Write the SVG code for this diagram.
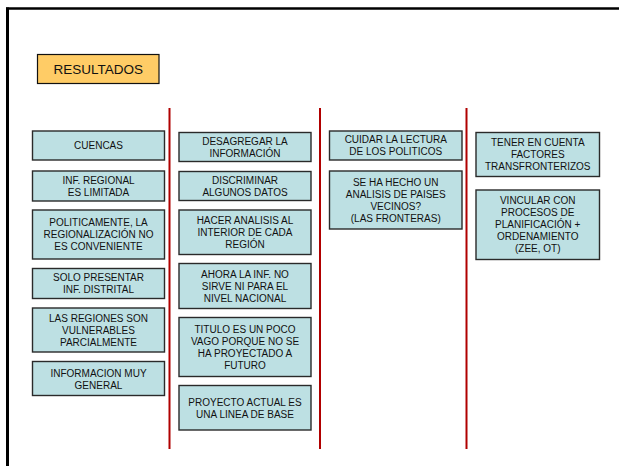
<svg xmlns="http://www.w3.org/2000/svg" width="619" height="466" viewBox="0 0 619 466">
<style>
.box{fill:#BDE0E3;stroke:#2a2a2a;stroke-width:1.4}
.t{font-family:"Liberation Sans",Arial,sans-serif;font-size:10px;fill:#111;text-anchor:middle}
.div{stroke:#B00000;stroke-width:2}
</style>
<rect x="0" y="0" width="619" height="466" fill="#fff"/>
<g id="frame">
<line x1="6" y1="8.5" x2="619" y2="8.5" stroke="#000" stroke-width="2.5"/>
<line x1="7.5" y1="7.5" x2="7.5" y2="466" stroke="#000" stroke-width="3"/>
</g>
<g id="title">
<rect x="37.5" y="54.5" width="121.5" height="29" fill="#FFCC66" stroke="#111" stroke-width="1.2"/>
<text x="98.25" y="73.8" style="font-family:'Liberation Sans',Arial,sans-serif;font-size:13.5px;fill:#111;text-anchor:middle">RESULTADOS</text>
</g>
<g id="dividers">
<line class="div" x1="169.5" y1="108" x2="169.5" y2="449"/>
<line class="div" x1="320" y1="108" x2="320" y2="449"/>
<line class="div" x1="466.5" y1="108" x2="466.5" y2="449"/>
</g>
<g id="n-cuencas"><rect class="box" x="32.5" y="131" width="132" height="29"/><text class="t" x="98.5" y="149.1">CUENCAS</text></g>
<g id="n-infregional"><rect class="box" x="32.5" y="171" width="132" height="30"/><text class="t" x="98.5" y="183.6"><tspan x="98.5">INF. REGIONAL</tspan><tspan x="98.5" dy="12">ES LIMITADA</tspan></text></g>
<g id="n-politicamente"><rect class="box" x="32.5" y="210" width="132" height="49"/><text class="t" x="98.5" y="226.1"><tspan x="98.5">POLITICAMENTE, LA</tspan><tspan x="98.5" dy="12">REGIONALIZACIÓN NO</tspan><tspan x="98.5" dy="12">ES CONVENIENTE</tspan></text></g>
<g id="n-solo"><rect class="box" x="32.5" y="268.5" width="132" height="30"/><text class="t" x="98.5" y="281.1"><tspan x="98.5">SOLO PRESENTAR</tspan><tspan x="98.5" dy="12">INF. DISTRITAL</tspan></text></g>
<g id="n-regiones"><rect class="box" x="32.5" y="308" width="132" height="44"/><text class="t" x="98.5" y="321.6"><tspan x="98.5">LAS REGIONES SON</tspan><tspan x="98.5" dy="12">VULNERABLES</tspan><tspan x="98.5" dy="12">PARCIALMENTE</tspan></text></g>
<g id="n-informacion"><rect class="box" x="32.5" y="361.5" width="132" height="34"/><text class="t" x="98.5" y="376.8"><tspan x="98.5">INFORMACION MUY</tspan><tspan x="98.5" dy="12">GENERAL</tspan></text></g>
<g id="n-desagregar"><rect class="box" x="179" y="132.5" width="132" height="29"/><text class="t" x="245" y="144.6"><tspan x="245">DESAGREGAR LA</tspan><tspan x="245" dy="12">INFORMACIÓN</tspan></text></g>
<g id="n-discriminar"><rect class="box" x="179" y="171.5" width="132" height="29"/><text class="t" x="245" y="183.6"><tspan x="245">DISCRIMINAR</tspan><tspan x="245" dy="12">ALGUNOS DATOS</tspan></text></g>
<g id="n-hacer"><rect class="box" x="179" y="210" width="132" height="44.5"/><text class="t" x="245" y="223.9"><tspan x="245">HACER ANALISIS AL</tspan><tspan x="245" dy="12">INTERIOR DE CADA</tspan><tspan x="245" dy="12">REGIÓN</tspan></text></g>
<g id="n-ahora"><rect class="box" x="179" y="263.5" width="132" height="45"/><text class="t" x="245" y="277.6"><tspan x="245">AHORA LA INF. NO</tspan><tspan x="245" dy="12">SIRVE NI PARA EL</tspan><tspan x="245" dy="12">NIVEL NACIONAL</tspan></text></g>
<g id="n-titulo"><rect class="box" x="179" y="317.5" width="132" height="59"/><text class="t" x="245" y="332.6"><tspan x="245">TITULO ES UN POCO</tspan><tspan x="245" dy="12">VAGO PORQUE NO SE</tspan><tspan x="245" dy="12">HA PROYECTADO A</tspan><tspan x="245" dy="12">FUTURO</tspan></text></g>
<g id="n-proyecto"><rect class="box" x="179" y="385.5" width="132" height="44.5"/><text class="t" x="245" y="405.8"><tspan x="245">PROYECTO ACTUAL ES</tspan><tspan x="245" dy="12">UNA LINEA DE BASE</tspan></text></g>
<g id="n-cuidar"><rect class="box" x="329.5" y="131" width="132.5" height="29"/><text class="t" x="395.75" y="143.1"><tspan x="395.75">CUIDAR LA LECTURA</tspan><tspan x="395.75" dy="12">DE LOS POLITICOS</tspan></text></g>
<g id="n-sehahecho"><rect class="box" x="329.5" y="171" width="132.5" height="58"/><text class="t" x="395.75" y="185.6"><tspan x="395.75">SE HA HECHO UN</tspan><tspan x="395.75" dy="12">ANALISIS DE PAISES</tspan><tspan x="395.75" dy="12">VECINOS?</tspan><tspan x="395.75" dy="12">(LAS FRONTERAS)</tspan></text></g>
<g id="n-tener"><rect class="box" x="476" y="132.5" width="123.5" height="44"/><text class="t" x="537.75" y="146.1"><tspan x="537.75">TENER EN CUENTA</tspan><tspan x="537.75" dy="12">FACTORES</tspan><tspan x="537.75" dy="12">TRANSFRONTERIZOS</tspan></text></g>
<g id="n-vincular"><rect class="box" x="476" y="190" width="123.5" height="69.5"/><text class="t" x="537.75" y="204.4"><tspan x="537.75">VINCULAR CON</tspan><tspan x="537.75" dy="12">PROCESOS DE</tspan><tspan x="537.75" dy="12">PLANIFICACIÓN +</tspan><tspan x="537.75" dy="12">ORDENAMIENTO</tspan><tspan x="537.75" dy="12">(ZEE, OT)</tspan></text></g>
</svg>
